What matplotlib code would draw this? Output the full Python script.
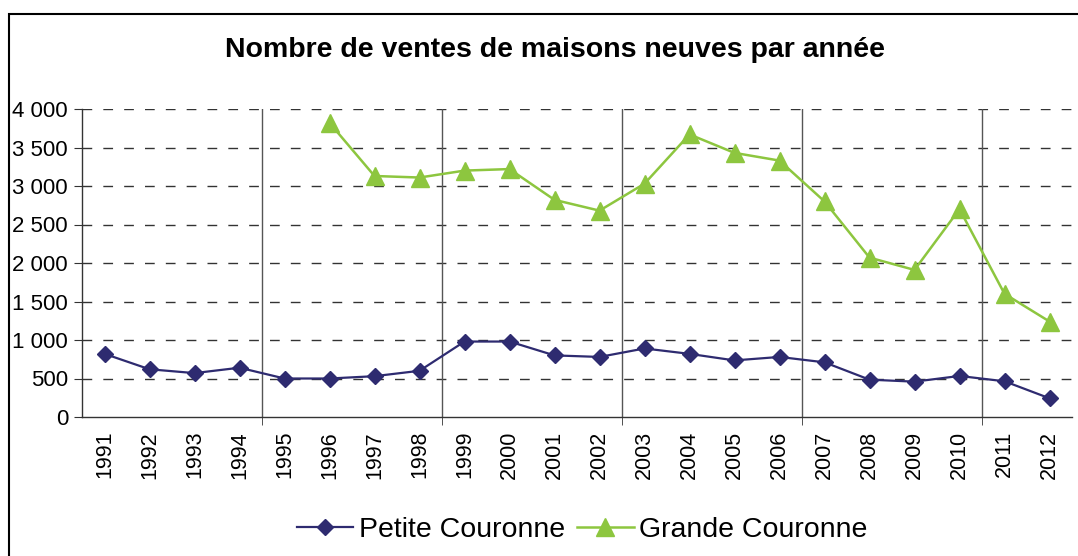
import numpy as np
import matplotlib.pyplot as plt
from matplotlib.patches import Rectangle
from matplotlib.ticker import FuncFormatter

plt.rcParams['font.family'] = ['Liberation Sans', 'DejaVu Sans']

years = [str(y) for y in range(1991, 2013)]
petite = [820, 620, 570, 640, 500, 500, 530, 600, 980, 980, 800,
          780, 890, 820, 735, 780, 710, 485, 459, 533, 464, 243]
grande = [np.nan, np.nan, np.nan, np.nan, np.nan, 3820, 3130, 3110, 3200, 3220, 2820,
          2680, 3030, 3670, 3430, 3330, 2800, 2070, 1910, 2700, 1600, 1240]
y_ticks = [0, 500, 1000, 1500, 2000, 2500, 3000, 3500, 4000]

fig = plt.figure(figsize=(10.78, 5.56), dpi=100)
ax = fig.add_axes([82 / 1078, 1 - 417 / 556, 990 / 1078, 308 / 556])

x = np.arange(len(years))

# horizontal dashed grid
for v in y_ticks[1:]:
    ax.axhline(v, color='#333333', lw=1.0, linestyle=(0, (7, 8)), zorder=1)

# vertical separators every 4 years
for b in np.arange(3.5, len(years) - 1, 4):
    ax.axvline(b, color='#555555', lw=1.0, zorder=1)

ax.plot(x, petite, color='#2e2b70', lw=1.6, marker='D', markersize=8.5,
        label='Petite Couronne', zorder=3)
ax.plot(x, grande, color='#8dc63f', lw=1.8, marker='^', markersize=13,
        label='Grande Couronne', zorder=3)

ax.set_xlim(-0.5, len(years) - 0.5)
ax.set_ylim(0, 4000)
ax.set_yticks(y_ticks)
ax.yaxis.set_major_formatter(FuncFormatter(lambda v, p: f'{int(v):,}'.replace(',', ' ')))
ax.set_xticks(x)
ax.set_xticklabels(years, rotation=90)
ax.set_xticks(np.arange(3.5, len(years) - 1, 4), minor=True)
ax.tick_params(axis='x', which='major', length=0, pad=10, labelsize=15.5)
ax.tick_params(axis='x', which='minor', length=6, direction='out', color='#333333')
ax.tick_params(axis='y', length=6, direction='out', pad=4, labelsize=16, color='#333333')

for s in ['top', 'right']:
    ax.spines[s].set_visible(False)
for s in ['left', 'bottom']:
    ax.spines[s].set_color('#333333')
    ax.spines[s].set_linewidth(1.0)

fig.text(0.515, 0.91, 'Nombre de ventes de maisons neuves par année',
         ha='center', va='center', fontsize=20.5, fontweight='bold')

fig.legend(loc='center', bbox_to_anchor=(0.54, 0.047), ncol=2, frameon=False,
           fontsize=20.5, handlelength=2.0, columnspacing=0.4, handletextpad=0.2)

fig.add_artist(Rectangle((9 / 1078, -0.1), 1.2, 1.075, transform=fig.transFigure,
                         fill=False, edgecolor='black', lw=1.5))

fig.savefig('out.png', dpi=100)
